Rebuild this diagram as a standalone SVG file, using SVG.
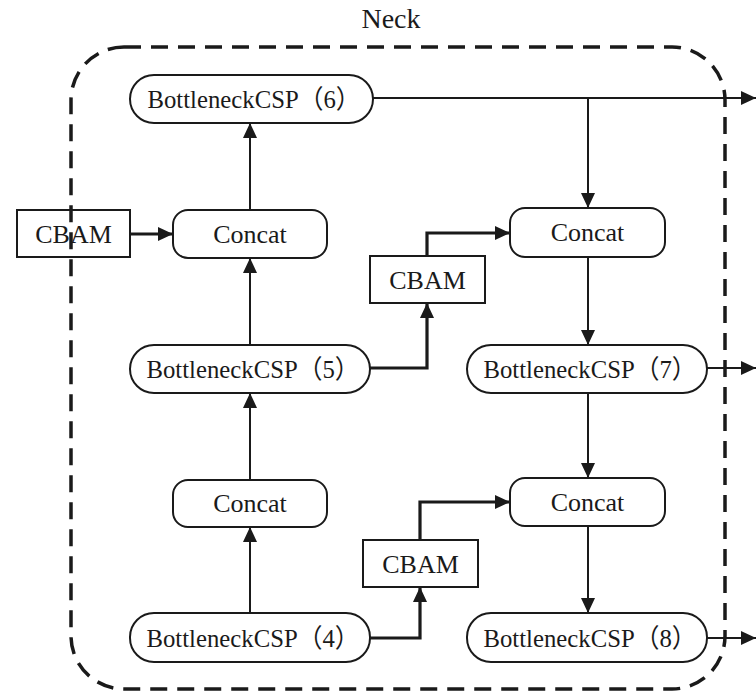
<svg xmlns="http://www.w3.org/2000/svg" width="756" height="696" viewBox="0 0 756 696">
  <style>
    .node { fill: #ffffff; stroke: #1a1a1a; stroke-width: 2; }
    .label { font-family: "Liberation Serif", "Noto Sans CJK SC", serif; font-size: 26px; fill: #1a1a1a; text-anchor: middle; }
    .wire { fill: none; stroke: #1a1a1a; stroke-width: 2; marker-end: url(#head); }
    .wire.bold { stroke-width: 3.2; }
    .boundary { fill: none; stroke: #1a1a1a; stroke-width: 3.5; stroke-dasharray: 17 10; }
  </style>
  <defs>
    <marker id="head" viewBox="0 0 15 14" refX="15" refY="7" markerWidth="15" markerHeight="14" markerUnits="userSpaceOnUse" orient="auto">
      <path d="M0,0 L15,7 L0,14 z" fill="#1a1a1a"/>
    </marker>
  </defs>

  <rect width="756" height="696" fill="#ffffff"/>

  <!-- connectors -->
  <g id="connectors">
    <path class="wire" d="M373,98 H756"/>
    <path class="wire" d="M588,98 V208"/>
    <path class="wire" d="M250,210 V123"/>
    <path class="wire bold" d="M130,234 H173"/>
    <path class="wire" d="M250,345 V258"/>
    <path class="wire bold" d="M370,368 H427 V303"/>
    <path class="wire bold" d="M427,256 V233 H510"/>
    <path class="wire" d="M588,257 V345"/>
    <path class="wire" d="M707,368 H756"/>
    <path class="wire" d="M588,393 V478"/>
    <path class="wire" d="M588,526 V613"/>
    <path class="wire" d="M707,638 H756"/>
    <path class="wire" d="M250,480 V393"/>
    <path class="wire" d="M250,613 V527"/>
    <path class="wire bold" d="M370,638 H420 V587"/>
    <path class="wire bold" d="M420,540 V502 H510"/>
  </g>

  <!-- nodes -->
  <g id="csp6">
    <rect class="node" x="130" y="75" width="243" height="48" rx="24"/>
    <text class="label" x="254" y="108" textLength="213" lengthAdjust="spacingAndGlyphs">BottleneckCSP（6）</text>
  </g>
  <g id="cbam-left">
    <rect class="node" x="17" y="210" width="113" height="47"/>
    <text class="label" x="73.5" y="243">CBAM</text>
  </g>
  <g id="concat-a">
    <rect class="node" x="173" y="210" width="154" height="48" rx="15"/>
    <text class="label" x="250" y="243">Concat</text>
  </g>
  <g id="concat-b">
    <rect class="node" x="510" y="208" width="155" height="49" rx="15"/>
    <text class="label" x="587.5" y="241">Concat</text>
  </g>
  <g id="cbam-mid">
    <rect class="node" x="370" y="256" width="115" height="47"/>
    <text class="label" x="427.5" y="289">CBAM</text>
  </g>
  <g id="csp5">
    <rect class="node" x="130" y="345" width="240" height="48" rx="24"/>
    <text class="label" x="253" y="378" textLength="213" lengthAdjust="spacingAndGlyphs">BottleneckCSP（5）</text>
  </g>
  <g id="csp7">
    <rect class="node" x="467" y="345" width="240" height="48" rx="24"/>
    <text class="label" x="590" y="378" textLength="213" lengthAdjust="spacingAndGlyphs">BottleneckCSP（7）</text>
  </g>
  <g id="concat-c">
    <rect class="node" x="173" y="480" width="154" height="47" rx="15"/>
    <text class="label" x="250" y="512">Concat</text>
  </g>
  <g id="concat-d">
    <rect class="node" x="510" y="478" width="155" height="48" rx="15"/>
    <text class="label" x="587.5" y="511">Concat</text>
  </g>
  <g id="cbam-low">
    <rect class="node" x="363" y="540" width="115" height="47"/>
    <text class="label" x="420.5" y="573">CBAM</text>
  </g>
  <g id="csp4">
    <rect class="node" x="130" y="613" width="240" height="49" rx="24"/>
    <text class="label" x="253" y="647" textLength="213" lengthAdjust="spacingAndGlyphs">BottleneckCSP（4）</text>
  </g>
  <g id="csp8">
    <rect class="node" x="467" y="613" width="240" height="49" rx="24"/>
    <text class="label" x="590" y="647" textLength="213" lengthAdjust="spacingAndGlyphs">BottleneckCSP（8）</text>
  </g>

  <!-- neck boundary -->
  <g id="neck">
    <rect class="boundary" x="71" y="47" width="654" height="642" rx="53"/>
    <text class="label" x="391" y="28" style="font-size:28px">Neck</text>
  </g>
</svg>
